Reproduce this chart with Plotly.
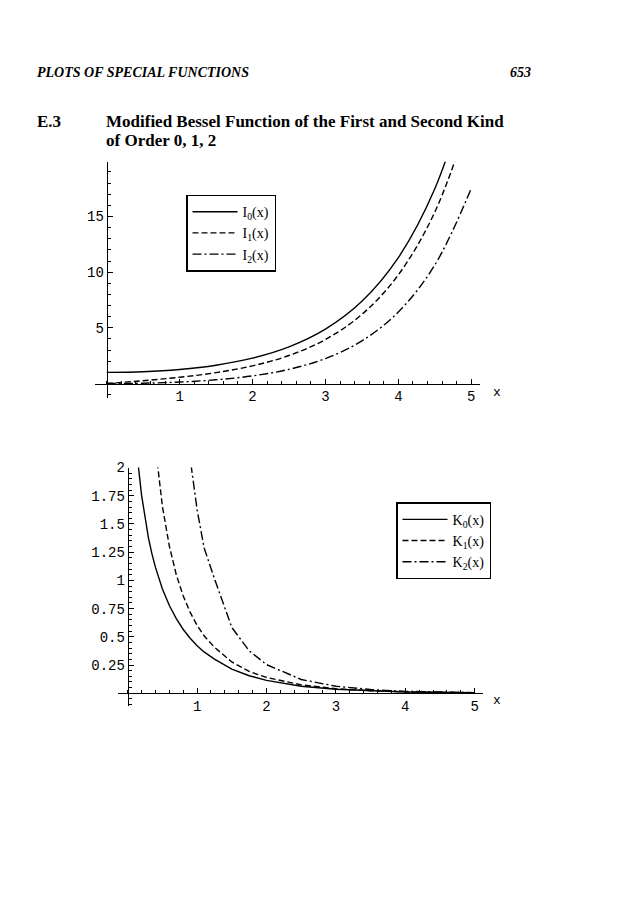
import plotly.graph_objects as go

# values
x_i = [0, 0.5, 1, 1.5, 2, 2.5, 3, 3.5, 4, 4.5, 5]
i0 = [1.0, 1.063, 1.266, 1.647, 2.280, 3.290, 4.881, 7.378, 11.30, 17.48, 27.24]
i1 = [0.0, 0.258, 0.565, 0.982, 1.591, 2.517, 3.953, 6.206, 9.759, 15.39, 24.34]
i2 = [0.0, 0.032, 0.136, 0.338, 0.689, 1.276, 2.245, 3.832, 6.422, 10.64, 17.51]

x_k = [0.1, 0.15, 0.2, 0.25, 0.3, 0.35, 0.4, 0.5, 0.6, 0.7, 0.8, 0.9, 1, 1.1, 1.25, 1.5, 1.75, 2, 2.5, 3, 3.5, 4, 5]
k0 = [2.427, 2.030, 1.753, 1.542, 1.372, 1.233, 1.115, 0.924, 0.777, 0.661, 0.565, 0.487, 0.421, 0.366, 0.303, 0.214, 0.155, 0.114, 0.062, 0.035, 0.020, 0.011, 0.004]
k1 = [9.854, 6.477, 4.776, 3.747, 3.056, 2.559, 2.184, 1.656, 1.303, 1.050, 0.862, 0.716, 0.602, 0.509, 0.408, 0.277, 0.193, 0.140, 0.074, 0.040, 0.022, 0.013, 0.004]
k2 = [199.5, 88.4, 49.5, 31.5, 22.2, 15.9, 12.0, 7.55, 5.12, 3.66, 2.72, 2.08, 1.625, 1.29, 1.015, 0.583, 0.376, 0.254, 0.122, 0.062, 0.033, 0.017, 0.005]

W, H = 638, 913
OX, OY = 8, 12  # page offset seen in the render
serif = "Liberation Serif"
mono = "Liberation Mono"


def px(x):
    return (x - OX) / W


def py(y):
    return 1 - (y - OY) / H


# axis placement (paper coords)
top_dom_x = [px(95), px(480)]
top_dom_y = [py(398), py(160)]
top_xr = [-0.16, 5.12]
top_yr = [-1.3, 19.9]
bot_dom_x = [px(118), px(483)]
bot_dom_y = [py(708), py(468)]
bot_xr = [-0.14, 5.12]
bot_yr = [-0.11, 2.0]


def zero_pos(dom, rng):
    return dom[0] + (0 - rng[0]) / (rng[1] - rng[0]) * (dom[1] - dom[0])


dash1 = "6px,3px"
dash2 = "9px,3px,2px,3px"

fig = go.Figure()
for y, name, dash in [(i0, "I<sub>0</sub>(x)", "solid"), (i1, "I<sub>1</sub>(x)", dash1), (i2, "I<sub>2</sub>(x)", dash2)]:
    fig.add_trace(go.Scatter(x=x_i, y=y, name=name, mode="lines", line=dict(color="black", width=1.4, dash=dash, shape="spline"),
                             xaxis="x", yaxis="y", legend="legend"))
for y, name, dash in [(k0, "K<sub>0</sub>(x)", "solid"), (k1, "K<sub>1</sub>(x)", dash1), (k2, "K<sub>2</sub>(x)", dash2)]:
    fig.add_trace(go.Scatter(x=x_k, y=y, name=name, mode="lines", line=dict(color="black", width=1.4, dash=dash),
                             xaxis="x2", yaxis="y2", legend="legend2"))

ax = dict(showgrid=False, zeroline=False, showline=True, linecolor="black", linewidth=1, ticks="inside", ticklen=5,
          tickcolor="black", tickfont=dict(family=mono, size=14, color="black"), anchor="free")
mn = dict(ticks="inside", ticklen=3, tickcolor="black")

fig.update_layout(
    width=W, height=H, margin=dict(l=0, r=0, t=0, b=0),
    paper_bgcolor="white", plot_bgcolor="rgba(0,0,0,0)",
    xaxis=dict(ax, domain=top_dom_x, range=top_xr, tickvals=[1, 2, 3, 4, 5], position=zero_pos(top_dom_y, top_yr),
               minor=dict(mn, dtick=0.2)),
    yaxis=dict(ax, domain=top_dom_y, range=top_yr, tickvals=[5, 10, 15], position=zero_pos(top_dom_x, top_xr),
               minor=dict(mn, dtick=1)),
    xaxis2=dict(ax, domain=bot_dom_x, range=bot_xr, tickvals=[1, 2, 3, 4, 5], position=zero_pos(bot_dom_y, bot_yr),
                minor=dict(mn, dtick=0.2)),
    yaxis2=dict(ax, domain=bot_dom_y, range=bot_yr, tickvals=[0.25, 0.5, 0.75, 1, 1.25, 1.5, 1.75, 2],
                ticktext=["0.25", "0.5", "0.75", "1", "1.25", "1.5", "1.75", "2"], position=zero_pos(bot_dom_x, bot_xr),
                minor=dict(mn, dtick=0.05)),
    legend=dict(x=px(186), y=py(193), xanchor="left", yanchor="top", bordercolor="black", borderwidth=1.5, itemwidth=45,
                bgcolor="white", font=dict(family=serif, size=14, color="black"), tracegroupgap=0),
    legend2=dict(x=px(396), y=py(503), xanchor="left", yanchor="top", bordercolor="black", borderwidth=1.5, itemwidth=45,
                 bgcolor="white", font=dict(family=serif, size=14, color="black"), tracegroupgap=0),
    showlegend=True,
)

txt = dict(xref="paper", yref="paper", showarrow=False, xanchor="left", yanchor="middle")
fig.add_annotation(txt, x=px(35), y=py(70), text="<b><i>PLOTS OF SPECIAL FUNCTIONS</i></b>",
                   font=dict(family=serif, size=14, color="black"))
fig.add_annotation(txt, x=px(508), y=py(70), text="<b><i>653</i></b>", font=dict(family=serif, size=14, color="black"))
fig.add_annotation(txt, x=px(35), y=py(119), text="<b>E.3</b>", font=dict(family=serif, size=17, color="black"))
fig.add_annotation(txt, x=px(104), y=py(119), text="<b>Modified Bessel Function of the First and Second Kind</b>",
                   font=dict(family=serif, size=17, color="black"))
fig.add_annotation(txt, x=px(104), y=py(138), text="<b>of Order 0, 1, 2</b>", font=dict(family=serif, size=17, color="black"))
fig.add_annotation(txt, x=px(491), y=py(392), text="x", font=dict(family=mono, size=13, color="black"))
fig.add_annotation(txt, x=px(491), y=py(703), text="x", font=dict(family=mono, size=13, color="black"))

fig.write_html("out.html")
